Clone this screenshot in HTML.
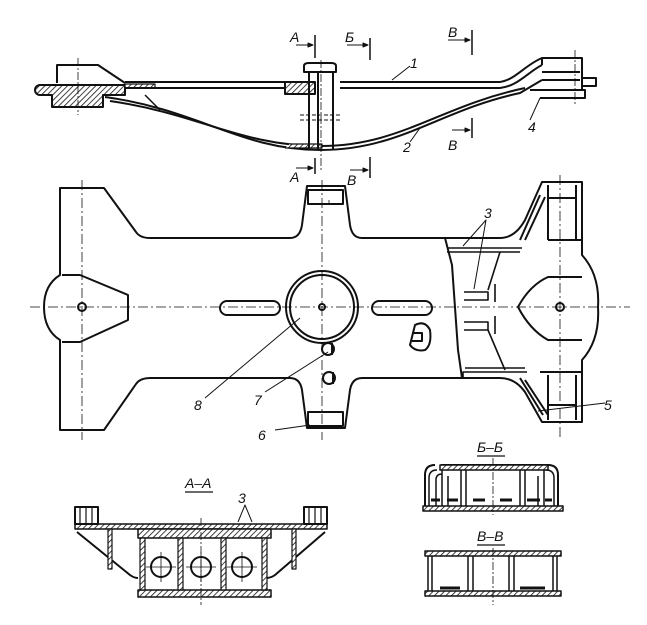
<!DOCTYPE html>
<html><head><meta charset="utf-8"><style>
html,body{margin:0;padding:0;background:#fff;}
svg{display:block;}
text{font-family:"Liberation Sans","DejaVu Sans",sans-serif;font-style:italic;font-size:14px;fill:#111;}
</style></head><body>
<svg width="647" height="625" viewBox="0 0 647 625" xmlns="http://www.w3.org/2000/svg">
<defs>
<pattern id="h" width="4" height="4" patternUnits="userSpaceOnUse" patternTransform="rotate(45)">
<rect width="4" height="4" fill="#fff"/><line x1="0" y1="0" x2="0" y2="4" stroke="#111" stroke-width="1.6"/>
</pattern>
</defs>
<g fill="none" stroke="#111" stroke-width="2" stroke-linejoin="round">
<!-- TOP VIEW -->
<path d="M57,83 V65 H98 L125,83"/>
<path d="M40,85 H125 V95 H103 V107 H52 V95 H40 A5,5 0 0 1 40,85 Z" fill="url(#h)"/>
<rect x="125" y="84" width="30" height="4" fill="url(#h)" stroke-width="1.2"/>
<path d="M125,82 H300 M340,82 H500 C515,80 525,65 542,58 H582 V90"/>
<path d="M125,88 H300 M340,88 H500 C518,86 528,72 542,65"/>
<path d="M542,58 V65 M542,72 H580 M542,80 H580"/>
<path d="M582,78 H596 V86 H582"/>
<path d="M530,90 H585 V98 H540"/>
<path d="M105,97 C200,110 240,150 321,150 C400,150 440,110 520,93 L542,80"/>
<path d="M110,101 C200,114 240,146 321,146 C400,146 440,106 525,88"/>
<path d="M145,95 L160,110" stroke-width="1.5"/>
<path d="M285,148 H322 V144 H290" fill="url(#h)" stroke-width="1.2"/>
<rect x="285" y="82" width="30" height="12" fill="url(#h)"/>
<path d="M306,72 H334 M309,72 V150 M333,72 V150 M318,72 V150" />
<path d="M304,72 V66 Q304,63 309,63 H331 Q336,63 336,66 V72 Z"/>
<path d="M300,115 H342 M300,120 H342" stroke-width="1" stroke-dasharray="4,2"/>
<!-- section markers -->
<path d="M315,35 V58 M370,38 V60 M472,30 V55 M472,118 V138 M315,158 V174 M370,157 V178" stroke-width="1.5"/>
<path d="M296,45 H313 M347,45 H368 M448,40 H470 M452,130 H470 M296,168 H313 M350,170 H368" stroke-width="1"/>
<path d="M313,45 l-5,-2 v4z M368,45 l-5,-2 v4z M470,40 l-5,-2 v4z M470,130 l-5,-2 v4z M313,168 l-5,-2 v4z M368,170 l-5,-2 v4z" fill="#111" stroke-width="1"/>
<path d="M78,58 V115 M575,50 V105 M321,60 V170" stroke-width="0.8" stroke-dasharray="8,2,2,2"/>
<!-- leaders -->
<path d="M392,80 L410,66 M420,128 L410,142 M540,98 L530,120" stroke-width="1"/>

<!-- PLAN VIEW -->
<path d="M60,188 H104 L136,232 Q140,238 150,238 H290 Q300,238 302,225 L307,186 H345 L350,225 Q352,238 362,238 H500 Q515,238 525,220 L542,182 H582 V255 Q600,275 598,307 Q600,340 582,360 V422 H542 L525,392 Q515,378 500,378 H362 Q352,378 350,390 L345,428 H307 L302,390 Q300,378 290,378 H150 Q140,378 136,384 L104,430 H60 V340 Q44,330 44,307 Q44,285 60,275 Z"/>
<path d="M62,275 H80 L128,295 V320 L80,342 H62" stroke-width="2"/>
<path d="M582,277 H548 Q530,285 518,307 Q530,330 548,340 H582"/>
<circle cx="82" cy="307" r="4"/><circle cx="560" cy="307" r="4"/>
<circle cx="322" cy="307" r="36"/><circle cx="322" cy="307" r="32"/><circle cx="322" cy="307" r="3"/>
<rect x="220" y="301" width="60" height="14" rx="7"/><rect x="372" y="301" width="60" height="14" rx="7"/>
<rect x="308" y="190" width="35" height="14"/><rect x="308" y="412" width="35" height="14"/>
<path d="M30,307 H630 M322,180 V440 M82,180 V440 M560,175 V440 M329,200 V205" stroke-width="0.8" stroke-dasharray="10,3,2,3"/>
<!-- right cutaway -->
<path d="M445,238 L452,265 L458,350 L462,378"/>
<path d="M447,248 H522 M447,252 H520 M464,292 H488 V300 H464 M464,322 H488 V330 H464 M463,378 V372 H527 M465,368 H525" stroke-width="1.6"/>
<path d="M500,252 L488,290 M488,330 L505,370 M495,284 V302 M495,316 V334" stroke-width="1.6"/>
<path d="M548,185 V240 M576,185 V240 M548,198 H576 M548,240 H582 M520,240 L540,195 M525,240 L545,197"/>
<path d="M548,375 V420 M576,375 V420 M548,405 H576 M540,372 H582 M520,378 L543,415 M525,380 L548,415"/>
<path d="M415,325 Q425,320 430,330 Q432,345 425,350 Q415,352 410,345 Z M412,333 H422 V341 H412"/>
<path d="M328,343 A6,6 0 1 1 328,355 A6,6 0 1 1 328,343 M332,343 V355 M329,372 A6,6 0 1 1 329,384 A6,6 0 1 1 329,372 M333,372 V384"/>
<!-- leaders -->
<path d="M463,246 L486,220 L474,289 M205,398 L300,318 M265,392 L328,352 M275,430 L310,425 M538,411 L605,403" stroke-width="1"/>

<!-- A-A -->
<path d="M185,492 H213" stroke-width="1.2"/>
<rect x="75" y="524" width="252" height="5" fill="url(#h)" stroke-width="1.5"/>
<rect x="75" y="507" width="23" height="17"/><rect x="304" y="507" width="23" height="17"/>
<path d="M80,507 V524 M86,507 V524 M92,507 V524 M309,507 V524 M315,507 V524 M321,507 V524" stroke-width="1.2"/>
<rect x="138" y="529" width="133" height="9" fill="url(#h)" stroke-width="1.5"/>
<rect x="138" y="590" width="133" height="7" fill="url(#h)" stroke-width="1.5"/>
<path d="M77,532 L130,575 Q134,578 138,578 M325,532 L275,575 Q271,578 266,578" />
<rect x="140" y="538" width="5" height="52" fill="url(#h)" stroke-width="1.2"/>
<rect x="178" y="538" width="5" height="52" fill="url(#h)" stroke-width="1.2"/>
<rect x="221" y="538" width="5" height="52" fill="url(#h)" stroke-width="1.2"/>
<rect x="262" y="538" width="5" height="52" fill="url(#h)" stroke-width="1.2"/>
<rect x="108" y="529" width="4" height="40" fill="url(#h)" stroke-width="1.2"/>
<rect x="292" y="529" width="4" height="40" fill="url(#h)" stroke-width="1.2"/>
<circle cx="161" cy="567" r="10"/><circle cx="201" cy="567" r="10"/><circle cx="242" cy="567" r="10"/>
<path d="M161,552 V582 M146,567 H176 M201,552 V582 M186,567 H216 M242,552 V582 M227,567 H257" stroke-width="0.8"/>
<path d="M201,518 V605" stroke-width="0.8" stroke-dasharray="8,2,2,2"/>
<path d="M238,522 L245,505 L252,522" stroke-width="1"/>
<!-- Б-Б -->
<path d="M477,456 H505" stroke-width="1.2"/>
<path d="M441,465 H548 Q558,465 558,475 V510" />
<path d="M425,510 V475 Q425,465 435,465" />
<rect x="423" y="506" width="140" height="5" fill="url(#h)" stroke-width="1.5"/>
<rect x="440" y="465" width="108" height="5" fill="url(#h)" stroke-width="1.5"/>
<path d="M429,506 V478 Q429,470 437,470 M436,506 V480 Q436,474 442,474 M442,470 V506 M448,476 V506 M461,470 V506 M466,470 V506 M520,470 V506 M525,470 V506 M538,476 V506 M544,470 V506 M554,506 V478 Q554,470 546,470" stroke-width="1.5"/>
<path d="M431,500 H440 M447,500 H458 M473,500 H485 M500,500 H512 M527,500 H540 M545,500 H552" stroke-width="3"/>
<path d="M493,458 V515" stroke-width="0.8" stroke-dasharray="8,2,2,2"/>
<!-- В-В -->
<path d="M477,545 H505" stroke-width="1.2"/>
<rect x="425" y="551" width="136" height="5" fill="url(#h)" stroke-width="1.5"/>
<rect x="425" y="591" width="136" height="5" fill="url(#h)" stroke-width="1.5"/>
<path d="M428,556 V591 M432,556 V591 M468,556 V591 M473,556 V591 M509,556 V591 M514,556 V591 M553,556 V591 M557,556 V591" stroke-width="1.5"/>
<path d="M440,588 H460 M520,588 H545" stroke-width="3"/>
<path d="M493,548 V605" stroke-width="0.8" stroke-dasharray="8,2,2,2"/>
</g>
<g>
<text x="290" y="42">А</text><text x="345" y="42">Б</text><text x="448" y="37">В</text>
<text x="410" y="68">1</text><text x="403" y="152">2</text><text x="528" y="132">4</text>
<text x="448" y="150">В</text><text x="290" y="182">А</text><text x="347" y="185">В</text>
<text x="484" y="218">3</text><text x="604" y="410">5</text><text x="258" y="440">6</text>
<text x="254" y="405">7</text><text x="194" y="410">8</text>
<text x="185" y="488">А–А</text><text x="238" y="503">3</text>
<text x="477" y="452">Б–Б</text><text x="477" y="541">В–В</text>
</g>
</svg>
</body></html>
